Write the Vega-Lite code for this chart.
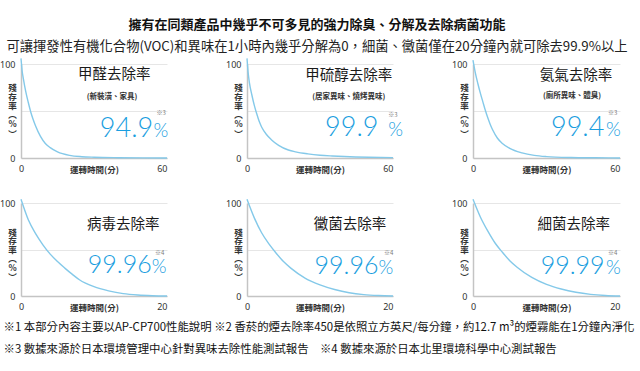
{
  "$schema": "https://vega.github.io/schema/vega-lite/v6.json",
  "background": "white",
  "padding": {"left": -1, "top": 19, "right": 0, "bottom": 0},
  "title": {
    "text": "擁有在同類產品中幾乎不可多見的強力除臭、分解及去除病菌功能",
    "subtitle": "可讓揮發性有機化合物(VOC)和異味在1小時內幾乎分解為0，細菌、黴菌僅在20分鐘內就可除去99.9%以上",
    "anchor": "middle",
    "font": "Noto Sans CJK TC",
    "fontSize": 13,
    "fontWeight": "bold",
    "color": "#111",
    "subtitleFont": "Noto Sans CJK TC",
    "subtitleFontSize": 13.3,
    "subtitleColor": "#222",
    "subtitlePadding": 8,
    "offset": 2
  },
  "datasets": {
    "curves": [
      {"panel": "p1", "t": 0, "v": 106}, {"panel": "p1", "t": 0.5, "v": 92}, {"panel": "p1", "t": 1, "v": 84}, {"panel": "p1", "t": 2, "v": 70}, {"panel": "p1", "t": 3, "v": 59}, {"panel": "p1", "t": 4, "v": 49}, {"panel": "p1", "t": 5, "v": 41}, {"panel": "p1", "t": 6, "v": 34}, {"panel": "p1", "t": 8, "v": 23}, {"panel": "p1", "t": 10, "v": 15.5}, {"panel": "p1", "t": 12, "v": 11}, {"panel": "p1", "t": 15, "v": 6.5}, {"panel": "p1", "t": 20, "v": 2.8}, {"panel": "p1", "t": 25, "v": 1.4}, {"panel": "p1", "t": 30, "v": 0.8}, {"panel": "p1", "t": 40, "v": 0.3}, {"panel": "p1", "t": 50, "v": 0.1}, {"panel": "p1", "t": 60, "v": 0},
      {"panel": "p2", "t": 0, "v": 106}, {"panel": "p2", "t": 0.5, "v": 90}, {"panel": "p2", "t": 1, "v": 80}, {"panel": "p2", "t": 2, "v": 67}, {"panel": "p2", "t": 3, "v": 56}, {"panel": "p2", "t": 4, "v": 47}, {"panel": "p2", "t": 5, "v": 39}, {"panel": "p2", "t": 6, "v": 33}, {"panel": "p2", "t": 8, "v": 25}, {"panel": "p2", "t": 10, "v": 19.5}, {"panel": "p2", "t": 13, "v": 13.5}, {"panel": "p2", "t": 17, "v": 8.5}, {"panel": "p2", "t": 20, "v": 6.5}, {"panel": "p2", "t": 25, "v": 4.4}, {"panel": "p2", "t": 30, "v": 3}, {"panel": "p2", "t": 35, "v": 2.2}, {"panel": "p2", "t": 40, "v": 1.6}, {"panel": "p2", "t": 50, "v": 0.8}, {"panel": "p2", "t": 60, "v": 0.4},
      {"panel": "p3", "t": 0, "v": 104}, {"panel": "p3", "t": 1, "v": 90}, {"panel": "p3", "t": 2, "v": 79}, {"panel": "p3", "t": 3, "v": 69}, {"panel": "p3", "t": 4, "v": 60}, {"panel": "p3", "t": 5, "v": 51}, {"panel": "p3", "t": 6, "v": 43}, {"panel": "p3", "t": 7, "v": 36}, {"panel": "p3", "t": 8, "v": 30}, {"panel": "p3", "t": 10, "v": 21}, {"panel": "p3", "t": 12, "v": 15.5}, {"panel": "p3", "t": 15, "v": 10.2}, {"panel": "p3", "t": 20, "v": 5.4}, {"panel": "p3", "t": 25, "v": 2.8}, {"panel": "p3", "t": 30, "v": 1.5}, {"panel": "p3", "t": 40, "v": 0.5}, {"panel": "p3", "t": 50, "v": 0.2}, {"panel": "p3", "t": 60, "v": 0},
      {"panel": "p4", "t": 0, "v": 104}, {"panel": "p4", "t": 1, "v": 82}, {"panel": "p4", "t": 2, "v": 67}, {"panel": "p4", "t": 3, "v": 55}, {"panel": "p4", "t": 4, "v": 45}, {"panel": "p4", "t": 5, "v": 37}, {"panel": "p4", "t": 6, "v": 30}, {"panel": "p4", "t": 7, "v": 23.5}, {"panel": "p4", "t": 8, "v": 17.5}, {"panel": "p4", "t": 10, "v": 10}, {"panel": "p4", "t": 12, "v": 5.5}, {"panel": "p4", "t": 14, "v": 2.5}, {"panel": "p4", "t": 16, "v": 1}, {"panel": "p4", "t": 18, "v": 0.3}, {"panel": "p4", "t": 20, "v": 0},
      {"panel": "p5", "t": 0, "v": 104}, {"panel": "p5", "t": 1, "v": 84}, {"panel": "p5", "t": 2, "v": 68}, {"panel": "p5", "t": 3, "v": 56}, {"panel": "p5", "t": 4, "v": 46}, {"panel": "p5", "t": 5, "v": 37}, {"panel": "p5", "t": 6, "v": 30}, {"panel": "p5", "t": 8, "v": 19}, {"panel": "p5", "t": 10, "v": 12}, {"panel": "p5", "t": 12, "v": 7}, {"panel": "p5", "t": 14, "v": 3.5}, {"panel": "p5", "t": 16, "v": 1.5}, {"panel": "p5", "t": 18, "v": 0.5}, {"panel": "p5", "t": 20, "v": 0},
      {"panel": "p6", "t": 0, "v": 104}, {"panel": "p6", "t": 1, "v": 85}, {"panel": "p6", "t": 2, "v": 70}, {"panel": "p6", "t": 3, "v": 57}, {"panel": "p6", "t": 4, "v": 47}, {"panel": "p6", "t": 5, "v": 38}, {"panel": "p6", "t": 6, "v": 31}, {"panel": "p6", "t": 8, "v": 20}, {"panel": "p6", "t": 10, "v": 12.5}, {"panel": "p6", "t": 12, "v": 7.5}, {"panel": "p6", "t": 14, "v": 4}, {"panel": "p6", "t": 16, "v": 1.8}, {"panel": "p6", "t": 18, "v": 0.6}, {"panel": "p6", "t": 20, "v": 0}
    ],
    "labels": [
      {"panel": "p1", "name": "甲醛去除率", "sub": "(新裝潢、家具)", "rate": "94.9", "unit": "%", "note": "※3"},
      {"panel": "p2", "name": "甲硫醇去除率", "sub": "(居家異味、燒烤異味)", "rate": "99.9", "unit": "%", "note": "※3"},
      {"panel": "p3", "name": "氨氣去除率", "sub": "(廁所異味、體臭)", "rate": "99.4", "unit": "%", "note": "※3"},
      {"panel": "p4", "name": "病毒去除率", "sub": "", "rate": "99.96", "unit": "%", "note": "※4"},
      {"panel": "p5", "name": "黴菌去除率", "sub": "", "rate": "99.96", "unit": "%", "note": "※4"},
      {"panel": "p6", "name": "細菌去除率", "sub": "", "rate": "99.99", "unit": "%", "note": "※4"}
    ]
  },
  "spacing": 22,
  "vconcat": [
    {
      "spacing": 80,
      "bounds": "flush",
      "hconcat": [
        {
          "width": 146, "height": 94,
          "layer": [
            {"data": {"name": "curves"}, "transform": [{"filter": "datum.panel === 'p1'"}], "mark": {"type": "line", "interpolate": "monotone", "stroke": "#84c9e9", "strokeWidth": 1.4},
             "encoding": {
               "x": {"field": "t", "type": "quantitative", "scale": {"domain": [0, 60], "nice": false}, "axis": {"values": [0, 60], "title": "運轉時間(分)", "labelAlign": {"condition": {"test": "datum.value > 0", "value": "right"}, "value": "center"}}},
               "y": {"field": "v", "type": "quantitative", "scale": {"domain": [0, 100], "nice": false}, "axis": {"values": [0, 50, 100], "labelExpr": "datum.value == 50 ? '' : datum.label", "title": ["殘", "存", "率", "︵", "%", "︶"]}}}},
            {"data": {"name": "labels"}, "transform": [{"filter": "datum.panel === 'p1'"}], "mark": {"type": "text", "style": "nm", "color": "#1a1a1a"}, "encoding": {"x": {"datum": 38.3}, "y": {"datum": 88}, "text": {"field": "name"}}},
            {"data": {"name": "labels"}, "transform": [{"filter": "datum.panel === 'p1'"}], "mark": {"type": "text", "style": "sb", "color": "#333"}, "encoding": {"x": {"datum": 37.4}, "y": {"datum": 65}, "text": {"field": "sub"}}},
            {"data": {"name": "labels"}, "transform": [{"filter": "datum.panel === 'p1'"}], "mark": {"type": "text", "style": "rt", "color": "#1a9ee0"}, "encoding": {"x": {"datum": 54.3}, "y": {"datum": 22.3}, "text": {"field": "rate"}}},
            {"data": {"name": "labels"}, "transform": [{"filter": "datum.panel === 'p1'"}], "mark": {"type": "text", "style": "un", "color": "#1a9ee0"}, "encoding": {"x": {"datum": 54.5}, "y": {"datum": 22.3}, "text": {"field": "unit"}}},
            {"data": {"name": "labels"}, "transform": [{"filter": "datum.panel === 'p1'"}], "mark": {"type": "text", "style": "nt", "color": "#777"}, "encoding": {"x": {"datum": 57.6}, "y": {"datum": 48}, "text": {"field": "note"}}}
          ]
        },
        {
          "width": 146, "height": 94,
          "layer": [
            {"data": {"name": "curves"}, "transform": [{"filter": "datum.panel === 'p2'"}], "mark": {"type": "line", "interpolate": "monotone", "stroke": "#84c9e9", "strokeWidth": 1.4},
             "encoding": {
               "x": {"field": "t", "type": "quantitative", "scale": {"domain": [0, 60], "nice": false}, "axis": {"values": [0, 60], "title": "運轉時間(分)", "labelAlign": {"condition": {"test": "datum.value > 0", "value": "right"}, "value": "center"}}},
               "y": {"field": "v", "type": "quantitative", "scale": {"domain": [0, 100], "nice": false}, "axis": {"values": [0, 50, 100], "labelExpr": "datum.value == 50 ? '' : datum.label", "title": ["殘", "存", "率", "︵", "%", "︶"]}}}},
            {"data": {"name": "labels"}, "transform": [{"filter": "datum.panel === 'p2'"}], "mark": {"type": "text", "style": "nm", "color": "#1a1a1a"}, "encoding": {"x": {"datum": 41.8}, "y": {"datum": 87.5}, "text": {"field": "name"}}},
            {"data": {"name": "labels"}, "transform": [{"filter": "datum.panel === 'p2'"}], "mark": {"type": "text", "style": "sb", "color": "#333"}, "encoding": {"x": {"datum": 41.8}, "y": {"datum": 64.5}, "text": {"field": "sub"}}},
            {"data": {"name": "labels"}, "transform": [{"filter": "datum.panel === 'p2'"}], "mark": {"type": "text", "style": "rt", "color": "#1a9ee0"}, "encoding": {"x": {"datum": 54}, "y": {"datum": 23.4}, "text": {"field": "rate"}}},
            {"data": {"name": "labels"}, "transform": [{"filter": "datum.panel === 'p2'"}], "mark": {"type": "text", "style": "un", "color": "#1a9ee0"}, "encoding": {"x": {"datum": 58}, "y": {"datum": 23.4}, "text": {"field": "unit"}}},
            {"data": {"name": "labels"}, "transform": [{"filter": "datum.panel === 'p2'"}], "mark": {"type": "text", "style": "nt", "color": "#777"}, "encoding": {"x": {"datum": 60}, "y": {"datum": 46}, "text": {"field": "note"}}}
          ]
        },
        {
          "width": 147, "height": 94,
          "layer": [
            {"data": {"name": "curves"}, "transform": [{"filter": "datum.panel === 'p3'"}], "mark": {"type": "line", "interpolate": "monotone", "stroke": "#84c9e9", "strokeWidth": 1.4},
             "encoding": {
               "x": {"field": "t", "type": "quantitative", "scale": {"domain": [0, 60], "nice": false}, "axis": {"values": [0, 60], "title": "運轉時間(分)", "labelAlign": {"condition": {"test": "datum.value > 0", "value": "right"}, "value": "center"}}},
               "y": {"field": "v", "type": "quantitative", "scale": {"domain": [0, 100], "nice": false}, "axis": {"values": [0, 50, 100], "labelExpr": "datum.value == 50 ? '' : datum.label", "title": ["殘", "存", "率", "︵", "%", "︶"]}}}},
            {"data": {"name": "labels"}, "transform": [{"filter": "datum.panel === 'p3'"}], "mark": {"type": "text", "style": "nm", "color": "#1a1a1a"}, "encoding": {"x": {"datum": 42}, "y": {"datum": 87.5}, "text": {"field": "name"}}},
            {"data": {"name": "labels"}, "transform": [{"filter": "datum.panel === 'p3'"}], "mark": {"type": "text", "style": "sb", "color": "#333"}, "encoding": {"x": {"datum": 40.4}, "y": {"datum": 65.5}, "text": {"field": "sub"}}},
            {"data": {"name": "labels"}, "transform": [{"filter": "datum.panel === 'p3'"}], "mark": {"type": "text", "style": "rt", "color": "#1a9ee0"}, "encoding": {"x": {"datum": 53.6}, "y": {"datum": 23.4}, "text": {"field": "rate"}}},
            {"data": {"name": "labels"}, "transform": [{"filter": "datum.panel === 'p3'"}], "mark": {"type": "text", "style": "un", "color": "#1a9ee0"}, "encoding": {"x": {"datum": 54.3}, "y": {"datum": 23.4}, "text": {"field": "unit"}}},
            {"data": {"name": "labels"}, "transform": [{"filter": "datum.panel === 'p3'"}], "mark": {"type": "text", "style": "nt", "color": "#777"}, "encoding": {"x": {"datum": 57}, "y": {"datum": 48}, "text": {"field": "note"}}}
          ]
        }
      ]
    },
    {
      "spacing": 80,
      "bounds": "flush",
      "title": {
        "text": ["※1 本部分內容主要以AP-CP700性能說明 ※2 香菸的煙去除率450是依照立方英尺/每分鐘，約12.7 m³的煙霧能在1分鐘內淨化", "※3 數據來源於日本環境管理中心針對異味去除性能測試報告　※4 數據來源於日本北里環境科學中心測試報告"],
        "orient": "bottom",
        "anchor": "start",
        "font": "Noto Sans CJK TC",
        "fontSize": 11.4,
        "fontWeight": "normal",
        "color": "#111",
        "lineHeight": 22,
        "offset": 10,
        "dx": 4
      },
      "hconcat": [
        {
          "width": 146, "height": 93,
          "layer": [
            {"data": {"name": "curves"}, "transform": [{"filter": "datum.panel === 'p4'"}], "mark": {"type": "line", "interpolate": "monotone", "stroke": "#84c9e9", "strokeWidth": 1.4},
             "encoding": {
               "x": {"field": "t", "type": "quantitative", "scale": {"domain": [0, 20], "nice": false}, "axis": {"values": [0, 20], "title": "運轉時間(分)", "labelAlign": {"condition": {"test": "datum.value > 0", "value": "right"}, "value": "center"}}},
               "y": {"field": "v", "type": "quantitative", "scale": {"domain": [0, 100], "nice": false}, "axis": {"values": [0, 50, 100], "labelExpr": "datum.value == 50 ? '' : datum.label", "title": ["殘", "存", "率", "︵", "%", "︶"], "titleY": 29, "titleLineHeight": 8.8}}}},
            {"data": {"name": "labels"}, "transform": [{"filter": "datum.panel === 'p4'"}], "mark": {"type": "text", "style": "nm", "color": "#1a1a1a"}, "encoding": {"x": {"datum": 14}, "y": {"datum": 76}, "text": {"field": "name"}}},
            {"data": {"name": "labels"}, "transform": [{"filter": "datum.panel === 'p4'"}], "mark": {"type": "text", "style": "rt2", "color": "#1a9ee0"}, "encoding": {"x": {"datum": 17.9}, "y": {"datum": 24.4}, "text": {"field": "rate"}}},
            {"data": {"name": "labels"}, "transform": [{"filter": "datum.panel === 'p4'"}], "mark": {"type": "text", "style": "un", "color": "#1a9ee0"}, "encoding": {"x": {"datum": 17.9}, "y": {"datum": 24.4}, "text": {"field": "unit"}}},
            {"data": {"name": "labels"}, "transform": [{"filter": "datum.panel === 'p4'"}], "mark": {"type": "text", "style": "nt", "color": "#777"}, "encoding": {"x": {"datum": 19}, "y": {"datum": 46.5}, "text": {"field": "note"}}}
          ]
        },
        {
          "width": 146, "height": 93,
          "layer": [
            {"data": {"name": "curves"}, "transform": [{"filter": "datum.panel === 'p5'"}], "mark": {"type": "line", "interpolate": "monotone", "stroke": "#84c9e9", "strokeWidth": 1.4},
             "encoding": {
               "x": {"field": "t", "type": "quantitative", "scale": {"domain": [0, 20], "nice": false}, "axis": {"values": [0, 20], "title": "運轉時間(分)", "labelAlign": {"condition": {"test": "datum.value > 0", "value": "right"}, "value": "center"}}},
               "y": {"field": "v", "type": "quantitative", "scale": {"domain": [0, 100], "nice": false}, "axis": {"values": [0, 50, 100], "labelExpr": "datum.value == 50 ? '' : datum.label", "title": ["殘", "存", "率", "︵", "%", "︶"], "titleY": 29, "titleLineHeight": 8.8}}}},
            {"data": {"name": "labels"}, "transform": [{"filter": "datum.panel === 'p5'"}], "mark": {"type": "text", "style": "nm", "color": "#1a1a1a"}, "encoding": {"x": {"datum": 14.1}, "y": {"datum": 76}, "text": {"field": "name"}}},
            {"data": {"name": "labels"}, "transform": [{"filter": "datum.panel === 'p5'"}], "mark": {"type": "text", "style": "rt2", "color": "#1a9ee0"}, "encoding": {"x": {"datum": 18}, "y": {"datum": 24}, "text": {"field": "rate"}}},
            {"data": {"name": "labels"}, "transform": [{"filter": "datum.panel === 'p5'"}], "mark": {"type": "text", "style": "un", "color": "#1a9ee0"}, "encoding": {"x": {"datum": 18}, "y": {"datum": 24}, "text": {"field": "unit"}}},
            {"data": {"name": "labels"}, "transform": [{"filter": "datum.panel === 'p5'"}], "mark": {"type": "text", "style": "nt", "color": "#777"}, "encoding": {"x": {"datum": 19.4}, "y": {"datum": 46.5}, "text": {"field": "note"}}}
          ]
        },
        {
          "width": 147, "height": 93,
          "layer": [
            {"data": {"name": "curves"}, "transform": [{"filter": "datum.panel === 'p6'"}], "mark": {"type": "line", "interpolate": "monotone", "stroke": "#84c9e9", "strokeWidth": 1.4},
             "encoding": {
               "x": {"field": "t", "type": "quantitative", "scale": {"domain": [0, 20], "nice": false}, "axis": {"values": [0, 20], "title": "運轉時間(分)", "labelAlign": {"condition": {"test": "datum.value > 0", "value": "right"}, "value": "center"}}},
               "y": {"field": "v", "type": "quantitative", "scale": {"domain": [0, 100], "nice": false}, "axis": {"values": [0, 50, 100], "labelExpr": "datum.value == 50 ? '' : datum.label", "title": ["殘", "存", "率", "︵", "%", "︶"], "titleY": 29, "titleLineHeight": 8.8}}}},
            {"data": {"name": "labels"}, "transform": [{"filter": "datum.panel === 'p6'"}], "mark": {"type": "text", "style": "nm", "color": "#1a1a1a"}, "encoding": {"x": {"datum": 13.7}, "y": {"datum": 76}, "text": {"field": "name"}}},
            {"data": {"name": "labels"}, "transform": [{"filter": "datum.panel === 'p6'"}], "mark": {"type": "text", "style": "rt2", "color": "#1a9ee0"}, "encoding": {"x": {"datum": 17.9}, "y": {"datum": 24}, "text": {"field": "rate"}}},
            {"data": {"name": "labels"}, "transform": [{"filter": "datum.panel === 'p6'"}], "mark": {"type": "text", "style": "un", "color": "#1a9ee0"}, "encoding": {"x": {"datum": 18.1}, "y": {"datum": 24}, "text": {"field": "unit"}}},
            {"data": {"name": "labels"}, "transform": [{"filter": "datum.panel === 'p6'"}], "mark": {"type": "text", "style": "nt", "color": "#777"}, "encoding": {"x": {"datum": 19}, "y": {"datum": 46.5}, "text": {"field": "note"}}}
          ]
        }
      ]
    }
  ],
  "config": {
    "view": {"stroke": null},
    "font": "Noto Sans CJK TC",
    "axis": {
      "labelFont": "Noto Sans",
      "labelFontSize": 9,
      "labelColor": "#333",
      "titleFont": "Noto Sans CJK TC",
      "titleFontSize": 8.5,
      "titleFontWeight": "bold",
      "titleColor": "#333",
      "ticks": false,
      "tickSize": 0,
      "domainColor": "#c4c4c4",
      "domainWidth": 1.5
    },
    "axisX": {"grid": false, "labelPadding": 6, "labelFlush": false, "titleY": 11, "titleBaseline": "middle"},
    "axisY": {"grid": true, "gridColor": "#e6e6e6", "gridWidth": 1, "labelPadding": 6, "titleAngle": 0, "titleX": -9, "titleY": 23, "titleAlign": "center", "titleBaseline": "middle", "titleLineHeight": 9.2},
    "style": {
      "nm": {"font": "Noto Sans CJK TC", "fontSize": 14.5, "fontWeight": "normal", "align": "center", "baseline": "middle"},
      "sb": {"font": "Noto Sans CJK TC", "fontSize": 7.5, "fontWeight": "bold", "align": "center", "baseline": "middle"},
      "rt": {"font": "Lato", "fontSize": 27, "fontWeight": 300, "align": "right", "baseline": "alphabetic"},
      "rt2": {"font": "Lato", "fontSize": 25, "fontWeight": 300, "align": "right", "baseline": "alphabetic"},
      "un": {"font": "Lato", "fontSize": 19, "fontWeight": 300, "align": "left", "baseline": "alphabetic"},
      "nt": {"font": "Noto Sans CJK TC", "fontSize": 6, "align": "center", "baseline": "middle"}
    }
  }
}
